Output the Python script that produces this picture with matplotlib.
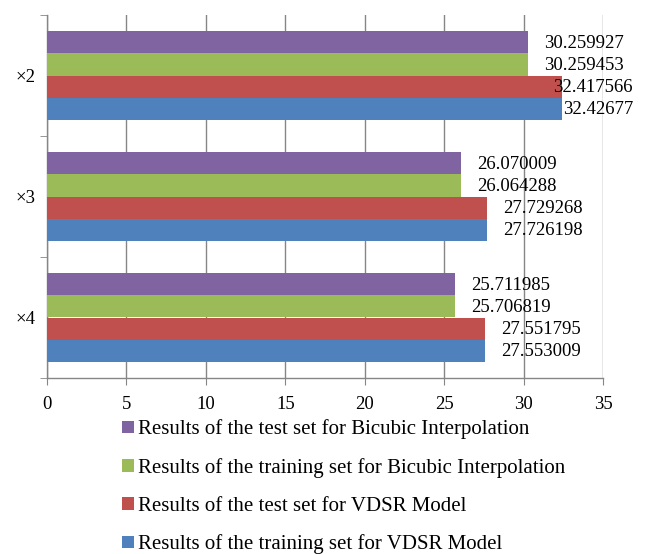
import numpy as np
import matplotlib
matplotlib.use("Agg")
import matplotlib.pyplot as plt
from matplotlib.patches import Patch

plt.rcParams['font.family'] = ['Liberation Serif', 'DejaVu Serif']

# scales, top to bottom
scales = ['\u00d72', '\u00d73', '\u00d74']

# series (drawn top to bottom inside each group)
series_names = ['Results of the test set for Bicubic Interpolation',
                'Results of the training set for Bicubic Interpolation',
                'Results of the test set for VDSR Model',
                'Results of the training set for VDSR Model']
test_bicubic = [30.259927, 26.070009, 25.711985]
train_bicubic = [30.259453, 26.064288, 25.706819]
test_vdsr = [32.417566, 27.729268, 27.551795]
train_vdsr = [32.42677, 27.726198, 27.553009]

colors = ['#8064A2', '#9BBB59', '#C0504D', '#4F81BD']

W, H = 646, 554
fig = plt.figure(figsize=(W/100, H/100), dpi=100)
ax = fig.add_axes([47/W, 1-378/H, 556/W, 363/H])

ys = np.arange(len(scales))
bh = 0.182
data = [test_bicubic, train_bicubic, test_vdsr, train_vdsr]
labels = []
for i, vals in enumerate(data):
    pos = ys - 1.5*bh + i*bh
    ax.barh(pos, vals, height=bh, color=colors[i], zorder=3)
    for y, v in zip(pos, vals):
        t = ax.annotate(str(v), (v, y), xytext=(11.5, -1),
                        textcoords='offset points', va='center', ha='left',
                        fontsize=13.5, zorder=4, annotation_clip=False)
        labels.append(t)

ax.set_xlim(0, 35)
ax.set_ylim(len(scales)-0.5, -0.5)
ax.set_xticks(np.arange(0, 36, 5))
ax.tick_params(axis='x', labelsize=13.5, length=5, color='#868686', pad=8)
ax.xaxis.grid(True, color='#868686', linewidth=1, zorder=0)

# category labels at centres, tick marks at boundaries
ax.set_yticks(ys)
ax.set_yticklabels(scales, fontsize=13.5)
ax.tick_params(axis='y', length=0, pad=8)
ax.set_yticks(np.arange(-0.5, len(scales), 1), minor=True)
ax.tick_params(axis='y', which='minor', length=5, color='#868686')

for s in ['top', 'right']:
    ax.spines[s].set_visible(False)
for s in ['left', 'bottom']:
    ax.spines[s].set_color('#868686')
    ax.spines[s].set_linewidth(1)

handles = [Patch(facecolor=c, edgecolor='none') for c in colors]
fig.legend(handles, series_names, loc='upper left',
           bbox_to_anchor=(112/W, 1-409/H), frameon=False,
           fontsize=15, handlelength=0.55, handleheight=0.55,
           handletextpad=0.2, labelspacing=0.9, borderpad=0)

# labels that would run off the chart are pulled back inside (as Excel does)
fig.canvas.draw()
for t in labels:
    bb = t.get_window_extent()
    if bb.x1 > 633:
        dx, dy = t.xyann
        t.xyann = (dx - (bb.x1 - 633) * 72 / 100, dy)

fig.savefig('out.png', dpi=100)
